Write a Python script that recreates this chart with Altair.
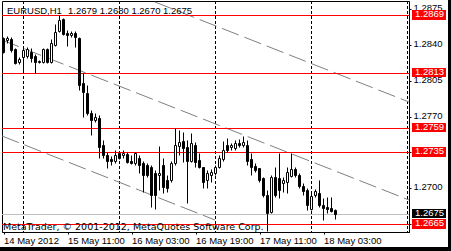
import altair as alt
import pandas as pd

# Hourly EURUSD bars, 14 May 2012 19:00 (index 0) .. 18 May 2012 06:00 (index 83)
opens = [1.2847, 1.2845, 1.2846, 1.2836, 1.2823, 1.2828, 1.2829, 1.2833, 1.2829, 1.2823,
         1.2823, 1.2836, 1.2823, 1.2840, 1.2854, 1.2865, 1.2852, 1.2850, 1.2852, 1.2847,
         1.2803, 1.2793, 1.2774, 1.2767, 1.2769, 1.2742, 1.2732, 1.2729, 1.2727, 1.2734,
         1.2732, 1.2733, 1.2727, 1.2725, 1.2730, 1.2725, 1.2723, 1.2721, 1.2715, 1.2713,
         1.2723, 1.2708, 1.2708, 1.2725, 1.2741, 1.2746, 1.2740, 1.2727, 1.2742, 1.2728,
         1.2721, 1.2708, 1.2713, 1.2715, 1.2721, 1.2729, 1.2742, 1.2740, 1.2739, 1.2744,
         1.2742, 1.2742, 1.2729, 1.2722, 1.2720, 1.2710, 1.2693, 1.2677, 1.2711, 1.2710,
         1.2705, 1.2706, 1.2712, 1.2719, 1.2713, 1.2702, 1.2698, 1.2680, 1.2693, 1.2695,
         1.2684, 1.2682, 1.2681, 1.2679]
highs = [1.2848, 1.2849, 1.2848, 1.2837, 1.2828, 1.2837, 1.2838, 1.2837, 1.2831, 1.2825,
         1.2837, 1.2837, 1.2846, 1.2861, 1.2869, 1.2866, 1.2855, 1.2854, 1.2854, 1.2848,
         1.2813, 1.2801, 1.2776, 1.2774, 1.2772, 1.2747, 1.2735, 1.2731, 1.2737, 1.2736,
         1.2737, 1.2735, 1.2732, 1.2735, 1.2732, 1.2727, 1.2725, 1.2723, 1.2718, 1.2741,
         1.2730, 1.2713, 1.2727, 1.2759, 1.2757, 1.2755, 1.2747, 1.2754, 1.2745, 1.2734,
         1.2721, 1.2718, 1.2719, 1.2723, 1.2732, 1.2746, 1.2749, 1.2744, 1.2747, 1.2748,
         1.2751, 1.2747, 1.2734, 1.2725, 1.2720, 1.2711, 1.2698, 1.2713, 1.2721, 1.2734,
         1.2711, 1.2721, 1.2734, 1.2721, 1.2715, 1.2705, 1.2700, 1.2695, 1.2699, 1.2708,
         1.2690, 1.2691, 1.2691, 1.2680]
lows = [1.2832, 1.2842, 1.2833, 1.2821, 1.2821, 1.2813, 1.2827, 1.2823, 1.2813, 1.2822,
        1.2822, 1.2822, 1.2822, 1.2839, 1.2853, 1.2850, 1.2839, 1.2848, 1.2838, 1.2796,
        1.2770, 1.2772, 1.2752, 1.2765, 1.2730, 1.2730, 1.2720, 1.2723, 1.2725, 1.2729,
        1.2730, 1.2725, 1.2724, 1.2723, 1.2715, 1.2696, 1.2711, 1.2682, 1.2680, 1.2698,
        1.2695, 1.2696, 1.2706, 1.2723, 1.2732, 1.2726, 1.2686, 1.2726, 1.2721, 1.2720,
        1.2700, 1.2700, 1.2706, 1.2713, 1.2720, 1.2727, 1.2735, 1.2737, 1.2737, 1.2740,
        1.2740, 1.2723, 1.2713, 1.2716, 1.2706, 1.2691, 1.2658, 1.2676, 1.2691, 1.2690,
        1.2696, 1.2695, 1.2711, 1.2711, 1.2700, 1.2693, 1.2679, 1.2679, 1.2691, 1.2682,
        1.2669, 1.2676, 1.2677, 1.2670]
closes = [1.2833, 1.2847, 1.2835, 1.2822, 1.2826, 1.2835, 1.2836, 1.2827, 1.2823, 1.2824,
          1.2836, 1.2823, 1.2842, 1.2853, 1.2864, 1.2851, 1.2850, 1.2852, 1.2848, 1.2801,
          1.2794, 1.2774, 1.2767, 1.2770, 1.2740, 1.2732, 1.2727, 1.2727, 1.2732, 1.2730,
          1.2734, 1.2726, 1.2725, 1.2734, 1.2723, 1.2713, 1.2713, 1.2693, 1.2693, 1.2715,
          1.2701, 1.2700, 1.2725, 1.2742, 1.2745, 1.2739, 1.2727, 1.2744, 1.2726, 1.2721,
          1.2706, 1.2715, 1.2716, 1.2721, 1.2730, 1.2737, 1.2737, 1.2742, 1.2744, 1.2742,
          1.2745, 1.2727, 1.2721, 1.2718, 1.2708, 1.2693, 1.2676, 1.2711, 1.2693, 1.2698,
          1.2708, 1.2716, 1.2719, 1.2713, 1.2702, 1.2697, 1.2684, 1.2692, 1.2697, 1.2684,
          1.2681, 1.2680, 1.2678, 1.2675]

symbol_label = "EURUSD,H1"
copyright_label = "MetaTrader, \u00a9 2001-2012, MetaQuotes Software Corp."

level_prices = [1.2869, 1.2813, 1.2759, 1.2735, 1.2665]
bid_price = 1.2675
midnight_bars = [5, 29, 53, 77, 101]
time_tick_bars = [0, 16, 32, 48, 64, 80]
time_tick_labels = ["14 May 2012", "15 May 11:00", "16 May 03:00",
                    "16 May 19:00", "17 May 11:00", "18 May 03:00"]
price_ticks = [1.2665, 1.2700, 1.2735, 1.2770, 1.2805, 1.2840, 1.2875]

channel_names = ["upper", "middle", "lower"]
channel_bar_start = [37.875, -0.375, -0.375]
channel_price_start = [1.28820, 1.28451, 1.27510]
channel_bar_end = [101.375, 101.375, 52.875]
channel_price_end = [1.27839, 1.26887, 1.26689]

# ---------------------------------------------------------------- tables
n = len(closes)
bars = pd.DataFrame({
    "k": list(range(n)), "o": opens, "h": highs, "l": lows, "c": closes,
    "dir": ["up" if c >= o else "down" for o, c in zip(opens, closes)],
})
chan_rows = []
for nm, k0, p0, k1, p1 in zip(channel_names, channel_bar_start, channel_price_start,
                              channel_bar_end, channel_price_end):
    chan_rows.append({"name": nm, "k": k0, "p": p0})
    chan_rows.append({"name": nm, "k": k1, "p": p1})
chan = pd.DataFrame(chan_rows)
levels = pd.DataFrame({"p": level_prices})
bid = pd.DataFrame({"p": [bid_price]})
marks_right = pd.DataFrame({
    "p": level_prices + [bid_price],
    "kind": ["level"] * len(level_prices) + ["bid"],
})
marks_right["label"] = [f"{v:.4f}" for v in marks_right["p"]]
grid = pd.DataFrame({"k": midnight_bars})
head = pd.DataFrame({"t": [symbol_label],
                     "q": [f"{opens[-1]:.4f} {highs[-1]:.4f} {lows[-1]:.4f} {closes[-1]:.4f}"]})
foot = pd.DataFrame({"t": [copyright_label]})
one = pd.DataFrame({"a": [0]})

# ---------------------------------------------------------------- scales / axes
FONT_A = "Liberation Sans"
labels_js = "[" + ",".join(f"'{s}'" for s in time_tick_labels) + "]"
vals_js = "[" + ",".join(str(v) for v in time_tick_bars) + "]"

xscale = alt.Scale(domain=[-0.375, 101.375], nice=False, zero=False)
yscale = alt.Scale(domain=[1.265719, 1.2883], nice=False, zero=False, round=True)
xaxis = alt.Axis(values=time_tick_bars, labelExpr=f"{labels_js}[indexof({vals_js}, datum.value)]",
                 orient="bottom", labelAlign="left", labelFlush=False, labelBound=False,
                 labelOverlap=False, tickSize=2, labelPadding=1, domainColor="black",
                 tickColor="black", labelColor="black", labelFont=FONT_A, labelFontSize=9.5,
                 grid=False, title=None)
yaxis = alt.Axis(values=price_ticks, format=".4f", orient="right", tickSize=2, labelPadding=2,
                 labelOffset=-2, labelFlush=False, labelBound=False, labelOverlap=False,
                 domainColor="black", tickColor="black", labelColor="black", labelFont=FONT_A,
                 labelFontSize=9.5, grid=False, title=None)


def X(f):
    return alt.X(f, type="quantitative", scale=xscale, axis=xaxis)


def Y(f):
    return alt.Y(f, type="quantitative", scale=yscale, axis=yaxis)


grid_layer = alt.Chart(grid).mark_rule(color="black", strokeWidth=1, strokeDash=[3, 2]).encode(x=X("k"))
chan_layer = alt.Chart(chan).mark_line(color="#808080", strokeWidth=1, strokeDash=[18, 6], clip=True).encode(
    x=X("k"), y=Y("p"), detail="name:N")
level_layer = alt.Chart(levels).mark_rule(color="#ff0000", strokeWidth=1, yOffset=0.5).encode(y=Y("p"))
bid_layer = alt.Chart(bid).mark_rule(color="#c0c0c0", strokeWidth=1, yOffset=0.5).encode(y=Y("p"))
wick_layer = alt.Chart(bars).mark_rule(color="black", strokeWidth=1, yOffset=0.5, y2Offset=0.5).encode(
    x=X("k"), y=Y("l"), y2="h")
body_layer = alt.Chart(bars).transform_calculate(
    x1="datum.k - 0.25", x2="datum.k + 0.25"
).mark_rect(stroke="black", strokeWidth=1, yOffset=0.5, y2Offset=0.5).encode(
    x=X("x1"), x2="x2", y=Y("o"), y2="c",
    fill=alt.Fill("dir:N", scale=alt.Scale(domain=["up", "down"], range=["white", "black"]), legend=None))

head_sym = alt.Chart(head).mark_text(align="left", baseline="alphabetic", font=FONT_A, fontSize=9.5,
                                     color="black").encode(x=alt.value(5), y=alt.value(13), text="t:N")
head_q = alt.Chart(head).mark_text(align="left", baseline="alphabetic", font=FONT_A, fontSize=9.5,
                                   color="black").encode(x=alt.value(66), y=alt.value(13), text="q:N")
foot_layer = alt.Chart(foot).mark_text(align="left", baseline="alphabetic", font="DejaVu Sans",
                                       fontSize=9.5, color="black").encode(
    x=alt.value(1), y=alt.value(229), text="t:N")

box_layer = alt.Chart(marks_right).transform_calculate(
    top="datum.p + 0.00049", bot="datum.p - 0.00045"
).mark_rect().encode(
    x=alt.value(410), x2=alt.value(444), y=Y("top"), y2="bot",
    fill=alt.Fill("kind:N", scale=alt.Scale(domain=["level", "bid"], range=["#ff0000", "#000000"]),
                  legend=None))
box_text = alt.Chart(marks_right).mark_text(align="left", baseline="middle", dy=-1, font=FONT_A,
                                            fontSize=9.5, color="white").encode(
    x=alt.value(413), y=Y("p"), text="label:N")

band_right = alt.Chart(one).mark_rect(color="black").encode(
    x=alt.value(446), x2=alt.value(449), y=alt.value(-1), y2=alt.value(250))
band_bottom = alt.Chart(one).mark_rect(color="black").encode(
    x=alt.value(-2), x2=alt.value(449), y=alt.value(246), y2=alt.value(250))

chart = alt.layer(
    grid_layer, chan_layer, level_layer, bid_layer, wick_layer, body_layer,
    head_sym, head_q, foot_layer, box_layer, box_text, band_right, band_bottom
).resolve_scale(fill="independent").properties(
    width=407, height=231,
    autosize=alt.AutoSizeParams(type="none"),
    padding={"left": 2, "top": 1, "right": 42, "bottom": 19},
    background="white",
).configure_view(stroke="black", strokeWidth=1)

chart.save("out.html", embed_options={"renderer": "svg", "actions": False})
